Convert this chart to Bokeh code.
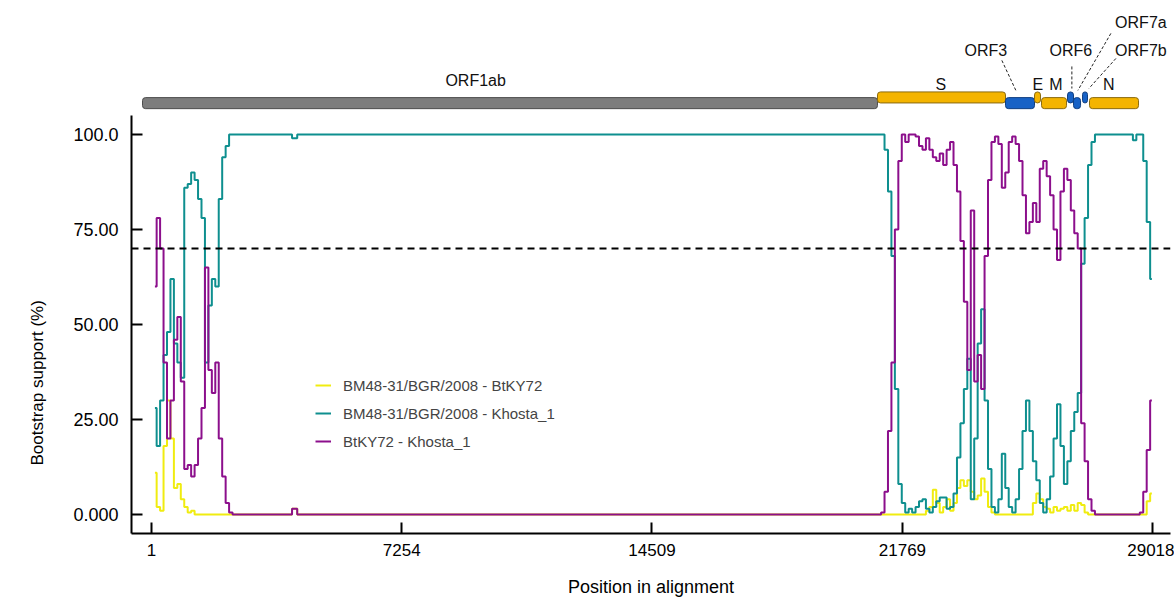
from bokeh.plotting import figure
from bokeh.models import Span, FixedTicker, Legend, LegendItem, ColumnDataSource, Title
from bokeh.embed import file_html
from bokeh.resources import INLINE
from bokeh.core.properties import value

# ---------------- data ----------------
positions = [
    100, 200, 300, 400, 500, 600, 700, 800, 900, 1000,
    1100, 1200, 1300, 1400, 1500, 1600, 1700, 1800, 1900, 2000,
    2100, 2200, 2300, 2400, 2500, 2600, 2700, 2800, 2900,
    3000, 4000, 4150, 4300, 5000, 20900,
    21000, 21100, 21200, 21300, 21400, 21500, 21600, 21700, 21800, 21900,
    22000, 22100, 22200, 22300, 22400, 22500, 22600, 22700, 22800, 22900,
    23000, 23100, 23200, 23300, 23400, 23500, 23600, 23700, 23800, 23900,
    24000, 24100, 24200, 24300, 24400, 24500, 24600, 24700, 24800, 24900,
    25000, 25100, 25200, 25300, 25400, 25500, 25600, 25700, 25800, 25900,
    26000, 26100, 26200, 26300, 26400, 26500, 26600, 26700, 26800, 26900,
    27000, 27100, 27200, 27300, 27400, 27500, 27600, 27700, 27800, 27900,
    28000, 28100, 28200, 28300, 28400, 28500, 28600, 28700, 28800, 28900,
    29000,
]

bm48_btky72 = [
    11, 2, 1, 18, 30, 20, 7, 8, 4, 2,
    0.5, 1, 0, 0, 0, 0, 0, 0, 0, 0,
    0, 0, 0, 0, 0, 0, 0, 0, 0,
    0, 0, 1.5, 0, 0, 0,
    0, 0, 0, 0, 0, 0, 0, 0, 0, 0,
    0, 0, 0, 0, 0, 1, 2, 6.5, 3, 0.5,
    2, 4, 1, 3, 7, 9, 7.5, 9, 6, 4,
    5, 9.5, 6, 2, 0.5, 0, 0, 0, 0, 0,
    0, 0, 0, 0, 0, 0, 3, 5.5, 4, 2,
    1.5, 0.5, 2, 1, 1.5, 2, 1, 2.5, 1, 3,
    2.5, 0.5, 0, 0, 0, 0, 0, 0, 0, 0,
    0, 0, 0, 0, 0, 0, 0, 0, 0, 3.5,
    5.5,
]

bm48_khosta1 = [
    28, 18, 30, 42, 48, 62, 45, 40, 36, 86,
    87, 90, 88, 83, 78, 40, 55, 62, 60, 83,
    94, 97, 100, 100, 100, 100, 100, 100, 100,
    100, 100, 99, 100, 100, 100,
    100, 100, 100, 96, 85, 68, 33, 8, 3, 0.5,
    1.5, 0.5, 2, 3.5, 4, 1.5, 0.5, 2, 3.5, 4.5,
    4.5, 1.5, 2, 5.5, 15, 24, 33, 41, 4, 20,
    45, 54, 30, 12, 2, 0.5, 4, 16, 7, 2,
    0.5, 4, 12, 22, 30, 22, 14, 9, 3, 0.5,
    4, 10, 20, 29, 18, 8, 14, 22, 27, 32,
    66, 78, 92, 98, 100, 100, 100, 100, 100, 100,
    100, 100, 100, 100, 100, 98.5, 100, 100, 93, 77,
    62,
]

btky72_khosta1 = [
    60, 78, 70, 40, 20, 30, 46, 52, 35, 12,
    13, 10, 13, 20, 28, 65, 38, 32, 40, 20,
    10, 3, 0.5, 0, 0, 0, 0, 0, 0,
    0, 0, 1.5, 0, 0, 0,
    0, 0, 0.5, 6, 22, 40, 75, 93, 100, 98,
    100, 100, 99.5, 97, 96, 99, 96, 94, 93, 95,
    92, 96, 98, 92, 85, 72, 56, 38, 80, 35,
    42, 33, 68, 88, 98, 99.5, 97.5, 86, 90, 98,
    99.5, 97.5, 93, 84, 74, 77, 82, 77, 91, 93,
    89, 84, 75, 67, 85, 91, 88, 80, 74, 70,
    24, 14, 4, 1, 0, 0, 0, 0, 0, 0,
    0, 0, 0, 0, 0, 0, 0, 0.5, 6, 17,
    30,
]

series_labels = ["BM48-31/BGR/2008 - BtKY72", "BM48-31/BGR/2008 - Khosta_1", "BtKY72 - Khosta_1"]

x_ticks = [1, 7254, 14509, 21769, 29018]
y_ticks = [0, 25, 50, 75, 100]
y_tick_labels = ["0.000", "25.00", "50.00", "75.00", "100.0"]
threshold = 70

# genome map
gene_names = ["ORF1ab", "S", "ORF3", "E", "M", "ORF6", "ORF7a", "ORF7b", "N"]
gene_start = [-260, 21046, 24757, 25598, 25801, 26555, 26729, 26990, 27192]
gene_end = [21046, 24757, 25598, 25772, 26526, 26729, 26932, 27134, 28613]
gene_raised = [False, True, False, True, False, True, False, True, False]
gene_kind = ["orf1", "structural", "accessory", "structural", "structural",
             "accessory", "accessory", "accessory", "structural"]

# ---------------- styling / layout ----------------
FONT = "Liberation Sans"
C_YEL = "#f0ec10"
C_TEAL = "#0e8f8f"
C_PURP = "#8c0f8c"
kind_fill = {"orf1": "#7d7d7d", "structural": "#f4b400", "accessory": "#1862c6"}
kind_line = {"orf1": "#4d4d4d", "structural": "#8a6a10", "accessory": "#123f80"}

p = figure(width=1174, height=600, output_backend="svg", toolbar_location=None,
           x_range=(-579, 29540), y_range=(-5, 132.1),
           min_border_left=131, min_border_right=4, min_border_top=12, min_border_bottom=67)
p.xgrid.visible = False
p.ygrid.visible = False
p.outline_line_color = None
p.background_fill_color = "white"

# curves
src = ColumnDataSource(dict(x=positions, y1=bm48_btky72, y2=bm48_khosta1, y3=btky72_khosta1))
r1 = p.step("x", "y1", source=src, mode="center", line_color=C_YEL, line_width=2)
r2 = p.step("x", "y2", source=src, mode="center", line_color=C_TEAL, line_width=2)
r3 = p.step("x", "y3", source=src, mode="center", line_color=C_PURP, line_width=2)

p.add_layout(Span(location=threshold, dimension="width", line_color="black",
                  line_width=2, line_dash="7 5"))

# genome bars
low_b, low_t = 106.8, 109.7
high_b, high_t = 108.3, 111.2
gsrc = ColumnDataSource(dict(
    left=gene_start, right=gene_end,
    bottom=[high_b if r else low_b for r in gene_raised],
    top=[high_t if r else low_t for r in gene_raised],
    fill=[kind_fill[k] for k in gene_kind],
    line=[kind_line[k] for k in gene_kind],
))
p.quad(left="left", right="right", bottom="bottom", top="top", source=gsrc,
       fill_color="fill", line_color="line", line_width=1, border_radius=3)

# gene labels (direct ones above bars)
direct = {"ORF1ab": (9397, 114.2), "S": (22882, 113.2), "E": (25695, 113.2),
          "M": (26217, 113.2), "N": (27754, 113.2)}
callout = {"ORF3": (24187, 122.1), "ORF6": (26652, 122.1),
           "ORF7b": (28682, 122.1), "ORF7a": (28682, 129.5)}
names = list(direct) + list(callout)
lx = [v[0] for v in direct.values()] + [v[0] for v in callout.values()]
ly = [v[1] for v in direct.values()] + [v[1] for v in callout.values()]
p.text(x=lx, y=ly, text=names, text_font=value(FONT), text_font_size="16px",
       text_align="center", text_baseline="middle", text_color="#111111")

# leader lines for callouts
lead = {"ORF3": ((24651, 119.5), (25057, 111.6)),
        "ORF6": ((26681, 117.9), (26681, 112.1)),
        "ORF7a": ((27812, 126.6), (26855, 111.6)),
        "ORF7b": ((27957, 120.0), (27174, 112.1))}
p.segment(x0=[v[0][0] for v in lead.values()], y0=[v[0][1] for v in lead.values()],
          x1=[v[1][0] for v in lead.values()], y1=[v[1][1] for v in lead.values()],
          line_color="#222222", line_width=1, line_dash="3 2")

# axes
p.xaxis.ticker = FixedTicker(ticks=x_ticks)
p.xaxis.major_label_overrides = {t: str(t) for t in x_ticks}
p.yaxis.ticker = FixedTicker(ticks=y_ticks)
p.yaxis.major_label_overrides = dict(zip(y_ticks, y_tick_labels))
p.yaxis.bounds = (-5, 105)
for ax in (p.xaxis, p.yaxis):
    ax.axis_line_width = 2
    ax.axis_line_color = "black"
    ax.major_tick_line_width = 2
    ax.major_tick_line_color = "black"
    ax.major_tick_in = 11
    ax.major_tick_out = 0
    ax.minor_tick_line_color = None
    ax.major_label_text_font = FONT
    ax.major_label_text_color = "black"
    ax.axis_label_text_font = FONT
    ax.axis_label_text_font_style = "normal"
    ax.axis_label_text_color = "black"
p.xaxis.major_label_text_font_size = "17px"
p.yaxis.major_label_text_font_size = "18px"
p.xaxis.major_label_standoff = 10
p.yaxis.major_label_standoff = 13
p.xaxis.axis_label = "Position in alignment"
p.xaxis.axis_label_text_font_size = "18px"
p.xaxis.axis_label_standoff = 18

# y-axis title as a left-side title so it can sit lower than the frame centre
ytitle = Title(text="Bootstrap support (%)", align="left", offset=68,
               text_font=FONT, text_font_size="17px", text_font_style="normal",
               text_color="black", standoff=48)
p.add_layout(ytitle, "left")

legend = Legend(items=[LegendItem(label=series_labels[0], renderers=[r1]),
                       LegendItem(label=series_labels[1], renderers=[r2]),
                       LegendItem(label=series_labels[2], renderers=[r3])],
                location=(184, 82), background_fill_alpha=0, border_line_color=None,
                label_text_font=FONT, label_text_font_size="15px",
                glyph_width=16, glyph_height=20, label_height=20, spacing=8,
                padding=0, margin=0, label_standoff=12)
p.add_layout(legend)

open("out.html", "w").write(file_html(p, INLINE))
